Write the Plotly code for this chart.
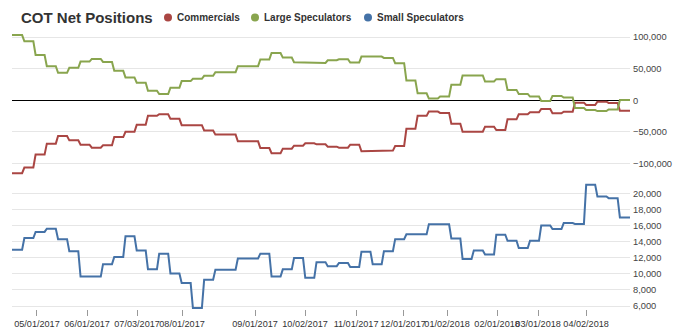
import plotly.graph_objects as go

# ---- data (weekly net positions) ----
TITLE = "COT Net Positions"
SERIES_NAMES = ["Commercials", "Large Speculators", "Small Speculators"]

commercials = [-115300, -106400, -85900, -68600, -56600, -63400, -70200, -74900, -71300, -58200,
               -49800, -38800, -24600, -22000, -29300, -39300, -39300, -47700, -54300, -54300,
               -65000, -65000, -75500, -83800, -76500, -71800, -68100, -69700, -73400, -74900,
               -70200, -80700, -79600, -79600, -72300, -45100, -24600, -17800, -19900, -37000,
               -49700, -49700, -41700, -47000, -30100, -22200, -19000, -13800, -20600, -18100,
               -3700, -7400, -2100, -4200, -16400]

large_specs = [103200, 93300, 71800, 54000, 43500, 51400, 61300, 65500, 60800, 46600,
               36200, 27800, 15200, 10000, 19900, 30400, 34100, 38800, 44500, 44500,
               54000, 54000, 64500, 74900, 67600, 60300, 59200, 59200, 63400, 65000,
               59700, 69200, 69200, 67100, 58700, 31400, 11000, 2700, 5900, 24500,
               39400, 39400, 29800, 33500, 16500, 10100, 5900, -1100, 6900, 4300,
               -12200, -15400, -17000, -14400, 500]

small_specs = [13000, 14450, 15200, 15600, 14300, 12800, 9650, 9650, 11200, 12100,
               14650, 12900, 10550, 12500, 10050, 8850, 5750, 9250, 10500, 10500,
               11900, 11900, 12500, 9650, 10550, 11950, 9500, 11450, 10950, 11350,
               10850, 12750, 11200, 12800, 14300, 14900, 14900, 16150, 16150, 14400,
               11850, 12900, 12400, 14850, 14100, 13200, 14100, 16000, 15550, 16300,
               16200, 21050, 19600, 19400, 17000]

TICK_LABELS = ["05/01/2017", "06/01/2017", "07/03/2017", "08/01/2017", "09/01/2017", "10/02/2017",
               "11/01/2017", "12/01/2017", "01/02/2018", "02/01/2018", "03/01/2018", "04/02/2018"]
# positions of the date labels on the (ordinal) week axis
TICK_POS = [2.22, 6.68, 11.13, 15.13, 21.63, 26.08, 30.62, 34.80, 38.72, 43.17, 46.82, 51.09]

COLORS = ["#AA4643", "#89A54E", "#4572A7"]
FONT = "Liberation Sans, Arial, Helvetica, sans-serif"

N = len(small_specs)


def held(vals):
    """Each weekly value is held flat across its week on the ordinal axis."""
    n = len(vals)
    xs, ys = [], []
    for i, v in enumerate(vals):
        a = 0 if i == 0 else i + 0.1
        b = n if i == n - 1 else i + 0.9
        xs += [a, b]
        ys += [v, v]
    return xs, ys


fig = go.Figure()
for name, vals, col, ax in [(SERIES_NAMES[0], commercials, COLORS[0], "y"),
                            (SERIES_NAMES[1], large_specs, COLORS[1], "y"),
                            (SERIES_NAMES[2], small_specs, COLORS[2], "y2")]:
    xs, ys = held(vals)
    fig.add_trace(go.Scatter(x=xs, y=ys, mode="lines", name=name, yaxis=ax, xaxis="x",
                             line=dict(color=col, width=2), showlegend=False,
                             hoverinfo="name+y"))

W, H = 678, 334
L, R, T, B = 12, 48, 26, 25
PW = W - L - R
PH = H - T - B


def py(pix):  # pixel row -> paper fraction
    return (H - B - pix) / PH


def px(pix):  # pixel column -> paper fraction
    return (pix - L) / PW


grid = "#e6e6e6"
tickfont = dict(family=FONT, size=9.3, color="#444")

fig.update_layout(
    width=W, height=H,
    margin=dict(l=L, r=R, t=T, b=B, pad=0, autoexpand=False),
    paper_bgcolor="white", plot_bgcolor="white",
    showlegend=False,
    title=dict(text="<b>" + TITLE + "</b>", xref="container", yref="container",
               x=21 / W, y=1 - 18 / H, xanchor="left", yanchor="middle",
               font=dict(family=FONT, size=15, color="#333")),
    xaxis=dict(range=[0, N], showgrid=False, zeroline=False, showline=False,
               tickmode="array", tickvals=TICK_POS, ticktext=TICK_LABELS,
               ticks="outside", ticklen=6, tickcolor="#999", tickwidth=1, tickangle=0,
               tickfont=dict(family=FONT, size=9.1, color="#333"), automargin=False,
               anchor="y2", fixedrange=True),
    yaxis=dict(domain=[py(176), py(26)], range=[-119800, 117600], side="right",
               tickmode="array", tickvals=[-100000, -50000, 0, 50000, 100000],
               tickformat=",d", showgrid=True, gridcolor=grid, gridwidth=1,
               zeroline=True, zerolinecolor="#000", zerolinewidth=1.2,
               showline=False, ticks="", tickfont=tickfont, ticklabelstandoff=2,
               automargin=False, anchor="x"),
    yaxis2=dict(domain=[0, py(180)], range=[5627, 21652], side="right",
                tickmode="array", tickvals=list(range(6000, 20001, 2000)),
                tickformat=",d", showgrid=True, gridcolor=grid, gridwidth=1,
                zeroline=False, showline=False, ticks="", tickfont=tickfont,
                ticklabelstandoff=2, automargin=False, anchor="x"),
)

# legend row next to the title
leg_y = py(17.5)
leg = [(SERIES_NAMES[0], COLORS[0], 168), (SERIES_NAMES[1], COLORS[1], 255), (SERIES_NAMES[2], COLORS[2], 368)]
for name, col, cx in leg:
    fig.add_shape(type="circle", xref="paper", yref="paper", xsizemode="pixel", ysizemode="pixel",
                  xanchor=px(cx), yanchor=leg_y, x0=-4, x1=4, y0=-4, y1=4,
                  fillcolor=col, line=dict(width=0))
    fig.add_annotation(xref="paper", yref="paper", x=px(cx + 7), y=leg_y, text="<b>" + name + "</b>",
                       showarrow=False, xanchor="left", yanchor="middle",
                       font=dict(family=FONT, size=10, color="#333"))

fig.write_html("out.html")
